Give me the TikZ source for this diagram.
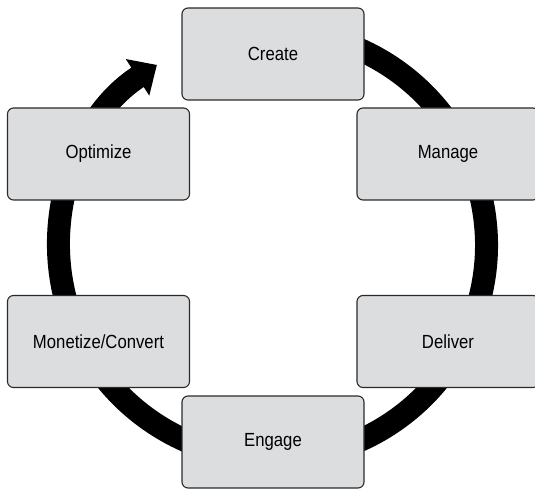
\documentclass[tikz,border=0pt]{standalone}
\usepackage{fontspec}
\setmainfont{Liberation Sans}[FakeStretch=0.88]
\usetikzlibrary{arrows.meta,calc}

\definecolor{boxfill}{HTML}{DCDDDF}
\definecolor{boxline}{HTML}{2A2A2A}

\tikzset{
  stage/.style={draw=boxline, fill=boxfill, line width=1.1pt, rounded corners=6pt,
    minimum width=182pt, minimum height=92pt, inner sep=0pt,
    font=\fontsize{19}{21}\selectfont, text=black},
  ring/.style={line width=23pt, black, -{Triangle[width=42pt,length=23pt]}}
}

\begin{document}
\begin{tikzpicture}[x=1pt,y=1pt]
  \useasboundingbox (0,0) rectangle (535,488);
  \clip (0,0) rectangle (535,488);

  % cycle ring behind the stages, ending in an arrow head near the top
  \coordinate (c) at (272.5,243);
  \draw[ring] ($(c)+(100:214)$) arc[start angle=100, end angle=-237.3, radius=214];

  % stages of the cycle
  \node[stage] (create)   at (273,434)   {Create};
  \node[stage] (manage)   at (448,334)   {Manage};
  \node[stage] (deliver)  at (448,146.5) {Deliver};
  \node[stage] (engage)   at (273,46)    {Engage};
  \node[stage] (monetize) at (98.5,146.5) {Monetize/Convert};
  \node[stage] (optimize) at (98.5,334)  {Optimize};
\end{tikzpicture}
\end{document}
